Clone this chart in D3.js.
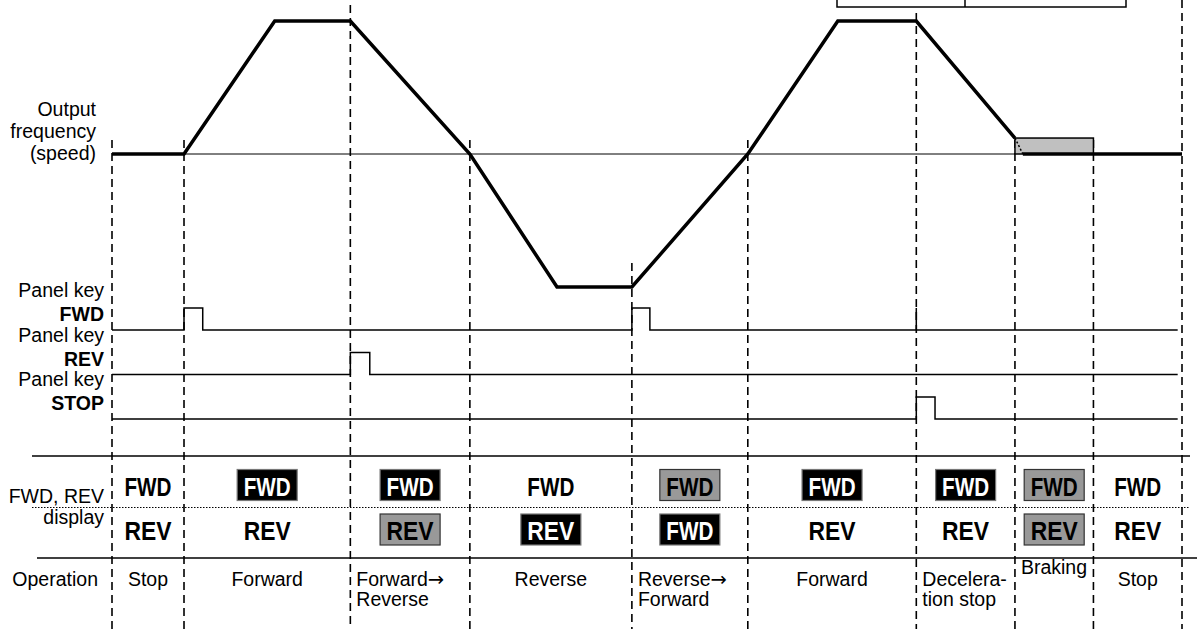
<!DOCTYPE html>
<html><head><meta charset="utf-8">
<script src="https://cdn.jsdelivr.net/npm/d3@7/dist/d3.min.js"></script>
<style>
html,body{margin:0;padding:0;background:#fff;}
svg{display:block;}
text{font-family:"Liberation Sans",Arial,sans-serif;}
</style></head>
<body>
<script>
// ---- data (time units; frequency in Hz) ----
const boundaries = [0, 1, 3.31, 4.97, 7.22, 8.83, 11.17, 12.54, 13.63, 14.86];
const dashTops = [140, 140, 5, 140, 263, 140, 13, 140, 140]; // start of each dashed guide (px)
const speedTimes = [0, 1, 2.26, 3.31, 4.97, 6.18, 7.22, 8.83, 10.08, 11.17, 12.54];
const speedValues = [0, 0, 60, 60, 0, -60, -60, 0, 60, 60, 7.2];
const brakeLevel = 7.2;
const brakeStartTime = 12.54, brakeEndTime = 13.63, brakeDotEnd = 12.65;
const stopTail = [[12.65, 0], [14.86, 0]];
const keyNames = ["FWD", "REV", "STOP"];
const keyPulses = {FWD: [[1, 1.26], [7.22, 7.47], [11.17, 11.17]], REV: [[3.31, 3.58]], STOP: [[11.17, 11.43]]};
const keyEnd = 14.8;
const displayTop = ["FWD","FWD","FWD","FWD","FWD","FWD","FWD","FWD","FWD"];
const displayTopStyle = ["plain","black","black","plain","gray","black","black","gray","plain"];
const displayBottom = ["REV","REV","REV","REV","FWD","REV","REV","REV","REV"];
const displayBottomStyle = ["plain","plain","gray","black","black","plain","plain","gray","plain"];
const operations = [["Stop"],["Forward"],["Forward\u2192","Reverse"],["Reverse"],["Reverse\u2192","Forward"],["Forward"],["Decelera-","tion stop"],["Braking"],["Stop"]];
const opAlign = ["middle","middle","start","middle","start","middle","start","start","middle"];
const leftLabels = ["Output", "frequency", "(speed)"];

const W = 1198, H = 629;
const FS = 19.5;
const svg = d3.select("body").append("svg").attr("width", W).attr("height", H);

const x = d3.scaleLinear().domain([0, 14.86]).range([112, 1182]);
const y = d3.scaleLinear().domain([-60, 60]).range([287, 21]);
const ky = d3.scalePoint().domain(keyNames).range([330, 419]);
const pulseH = 22;

// top box (partly off page)
svg.append("rect").attr("x", 837).attr("y", -20).attr("width", 289).attr("height", 27)
  .attr("fill", "none").attr("stroke", "#000").attr("stroke-width", 1.5);
svg.append("line").attr("x1", 965).attr("x2", 965).attr("y1", -5).attr("y2", 7)
  .attr("stroke", "#000").attr("stroke-width", 1.5);

// dashed guides
svg.selectAll(".guide").data(boundaries).enter().append("line")
  .attr("x1", d => x(d)).attr("x2", d => x(d))
  .attr("y1", (d, i) => dashTops[i]).attr("y2", H)
  .attr("stroke", "#000").attr("stroke-width", 1.6).attr("stroke-dasharray", "8,5");

// zero line
svg.append("line").attr("x1", x(1)).attr("x2", x(brakeStartTime)).attr("y1", y(0)).attr("y2", y(0))
  .attr("stroke", "#000").attr("stroke-width", 1);

// braking rect
svg.append("rect").attr("x", x(brakeStartTime)).attr("y", y(brakeLevel))
  .attr("width", x(brakeEndTime) - x(brakeStartTime)).attr("height", y(0) - y(brakeLevel))
  .attr("fill", "#c0c0c0").attr("stroke", "#000").attr("stroke-width", 1.5);
svg.append("line").attr("x1", x(brakeStartTime)).attr("y1", y(brakeLevel))
  .attr("x2", x(brakeDotEnd)).attr("y2", y(0))
  .attr("stroke", "#000").attr("stroke-width", 1.5).attr("stroke-dasharray", "2,2");

// speed profile
const line = d3.line().x(d => x(d[0])).y(d => y(d[1]));
svg.append("path").attr("d", line(speedTimes.map((t, i) => [t, speedValues[i]])))
  .attr("fill", "none").attr("stroke", "#000").attr("stroke-width", 3.5).attr("stroke-linejoin", "miter");
svg.append("path").attr("d", line(stopTail))
  .attr("fill", "none").attr("stroke", "#000").attr("stroke-width", 3.5);

// key signals
keyNames.forEach(k => {
  const base = ky(k);
  let pts = [[x(0), base]];
  keyPulses[k].forEach(p => {
    pts.push([x(p[0]), base], [x(p[0]), base - pulseH], [x(p[1]), base - pulseH], [x(p[1]), base]);
  });
  pts.push([x(keyEnd), base]);
  svg.append("path").attr("d", d3.line()(pts)).attr("fill", "none")
    .attr("stroke", "#000").attr("stroke-width", 1.5);
});

// left labels
const lab = svg.append("g").attr("font-size", FS).attr("text-anchor", "end").attr("fill", "#000");
leftLabels.forEach((t, i) => lab.append("text").attr("x", 96).attr("y", 116 + i * 22).text(t));
keyNames.forEach(k => {
  const b = ky(k);
  lab.append("text").attr("x", 104).attr("y", b - 33).text("Panel key");
  lab.append("text").attr("x", 104).attr("y", b - 9).attr("font-weight", "bold").text(k);
});
lab.append("text").attr("x", 104).attr("y", 503).text("FWD, REV");
lab.append("text").attr("x", 104).attr("y", 524).text("display");
lab.append("text").attr("x", 98).attr("y", 586).text("Operation");

// section lines
svg.append("line").attr("x1", 32).attr("x2", 1190).attr("y1", 456).attr("y2", 456).attr("stroke", "#000").attr("stroke-width", 1.5);
svg.append("line").attr("x1", 32).attr("x2", 1190).attr("y1", 507.5).attr("y2", 507.5).attr("stroke", "#000").attr("stroke-width", 1.2).attr("stroke-dasharray", "1.5,1.5");
svg.append("line").attr("x1", 37).attr("x2", 1197).attr("y1", 558).attr("y2", 558).attr("stroke", "#000").attr("stroke-width", 1.5);

// display glyphs
const centers = boundaries.map((b, i) => i < boundaries.length - 1 ? (x(b) + x(boundaries[i + 1])) / 2 : x(b) + 45);
function drawDisplay(texts, styles, baseline, boxTop) {
  texts.forEach((t, i) => {
    const cx = centers[i];
    const st = styles[i];
    if (st !== "plain") {
      svg.append("rect").attr("x", cx - 30).attr("y", boxTop).attr("width", 60).attr("height", 31)
        .attr("fill", st === "black" ? "#000" : "#999")
        .attr("stroke", st === "black" ? "#777" : "#333").attr("stroke-width", 1.2);
    }
    svg.append("text").attr("x", cx).attr("y", baseline).attr("text-anchor", "middle")
      .attr("font-family", "'DejaVu Sans Condensed','DejaVu Sans',sans-serif")
      .attr("font-weight", "bold").attr("font-size", 26)
      .attr("textLength", 47).attr("lengthAdjust", "spacingAndGlyphs")
      .attr("fill", st === "black" ? "#fff" : "#000").text(t);
  });
}
drawDisplay(displayTop, displayTopStyle, 496, 469.5);
drawDisplay(displayBottom, displayBottomStyle, 540, 514);

// operation labels
const opg = svg.append("g").attr("font-size", FS).attr("fill", "#000");
operations.forEach((lines, i) => {
  const anchor = opAlign[i];
  const px = anchor === "middle" ? centers[i] : x(boundaries[i]) + 6;
  const by = lines[0] === "Braking" ? 574 : 586;
  lines.forEach((l, j) => {
    const t = opg.append("text").attr("x", px).attr("y", by + j * 20).attr("text-anchor", anchor);
    if (l.endsWith("\u2192")) {
      t.append("tspan").text(l.slice(0, -1));
      t.append("tspan").attr("font-family", "'DejaVu Sans',sans-serif").text("\u2192");
    } else {
      t.text(l);
    }
  });
});
</script>
</body></html>
